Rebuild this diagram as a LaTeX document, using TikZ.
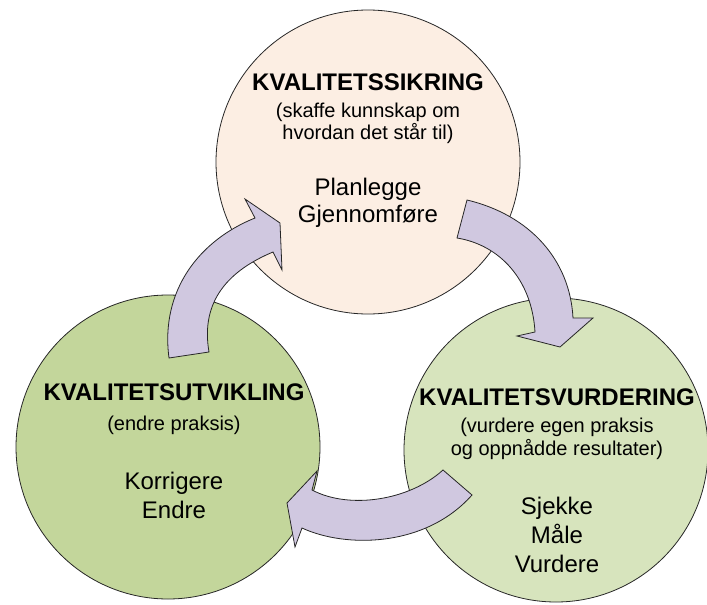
\documentclass[tikz,border=0pt]{standalone}
\usepackage{fontspec}
\setmainfont{Liberation Sans}
\definecolor{peach}{HTML}{FCEEE3}
\definecolor{olive}{HTML}{C3D69B}
\definecolor{lightolive}{HTML}{D7E4BD}
\definecolor{lavender}{HTML}{D0C8E0}
\begin{document}
\begin{tikzpicture}[x=1pt,y=-1pt,
  disc/.style={circle, draw=black!85, line width=0.8pt, minimum size=304pt, inner sep=0pt},
  blockarrow/.style={draw=black!85, line width=0.8pt, fill=lavender, line join=miter},
  ttl/.style={font=\fontsize{24}{28}\selectfont\bfseries, anchor=base, inner sep=0pt},
  sub/.style={font=\fontsize{20}{23}\selectfont, anchor=base, inner sep=0pt},
  bod/.style={font=\fontsize{24}{28}\selectfont, anchor=base, inner sep=0pt}]
\useasboundingbox (0,0) rectangle (707,605);
% circles
\node[disc, fill=peach] (top) at (368,162) {};
\node[disc, fill=olive] (left) at (168,447) {};
\node[disc, fill=lightolive] (right) at (556,450) {};
% arrows
\draw[blockarrow] (467,200) .. controls (530,215) and (570,260) .. (573,318) -- (593,318) -- (560,347) -- (517,336) -- (535,332) .. controls (532,280) and (500,245) .. (457,238) -- cycle;
\draw[blockarrow] (443,470) .. controls (410,500) and (350,510) .. (312,490) -- (317,471) -- (287,503) -- (295,547) -- (302,528) .. controls (345,548) and (425,548) .. (472,495) -- cycle;
\draw[blockarrow] (169,358) .. controls (160,290) and (200,240) .. (255,218) -- (245,199) -- (280,223) -- (282,270) -- (273,252) .. controls (230,270) and (200,300) .. (209,352) -- cycle;
% top texts
\node[ttl] (t1) at (368,90) {KVALITETSSIKRING};
\node[sub] (t2) at (368,117) {(skaffe kunnskap om};
\node[sub] (t3) at (368,139) {hvordan det står til)};
\node[bod] (t4) at (368,195) {Planlegge};
\node[bod] (t5) at (368,222) {Gjennomføre};
% left texts
\node[ttl] (l1) at (174,400) {KVALITETSUTVIKLING};
\node[sub] (l2) at (174,430) {(endre praksis)};
\node[bod] (l3) at (174,489) {Korrigere};
\node[bod] (l4) at (174,518) {Endre};
% right texts
\node[ttl] (r1) at (557,405) {KVALITETSVURDERING};
\node[sub] (r2) at (557,432) {(vurdere egen praksis};
\node[sub] (r3) at (557,455) {og oppnådde resultater)};
\node[bod] (r4) at (557,514) {Sjekke};
\node[bod] (r5) at (557,543) {Måle};
\node[bod] (r6) at (557,572) {Vurdere};
\end{tikzpicture}
\end{document}
